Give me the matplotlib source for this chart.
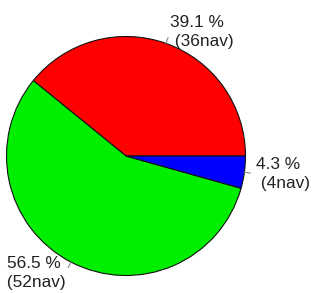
import numpy as np
import matplotlib
matplotlib.use("Agg")
import matplotlib.pyplot as plt

counts = [36, 52, 4]
unit = "nav"
colors = ["#ff0000", "#00ee00", "#0000ff"]

total = sum(counts)
# R style labels: "xx.x % \n (nnav)"
labels = [f"{c / total * 100:.1f} % \n ({c}{unit})" for c in counts]

plt.rcParams['font.family'] = ['Liberation Sans', 'DejaVu Sans']

fig = plt.figure(figsize=(3.12, 2.93), dpi=100)
ax = fig.add_axes([0, 0, 1, 1])

cx, cy, r = 126, 137, 119.5
wedges, _ = ax.pie(counts, colors=colors, startangle=0, counterclock=True,
                   center=(cx, cy), radius=r,
                   wedgeprops=dict(edgecolor="#111111", linewidth=0.8),
                   frame=True)
ax.set_xlim(0, 312)
ax.set_ylim(0, 293)
ax.axis("off")

for w, lab in zip(wedges, labels):
    mid = np.deg2rad((w.theta1 + w.theta2) / 2)
    c, s = np.cos(mid), np.sin(mid)
    ax.plot([cx + r * c, cx + 1.05 * r * c], [cy + r * s, cy + 1.05 * r * s],
            color="#888888", lw=0.8)
    ha = "left" if c > 0 else "right"
    ax.text(cx + 1.1 * r * c, cy + 1.1 * r * s, lab, ha=ha, va="center",
            fontsize=12.4, color="#222222", linespacing=1.35)

fig.savefig("out.png", dpi=100)
